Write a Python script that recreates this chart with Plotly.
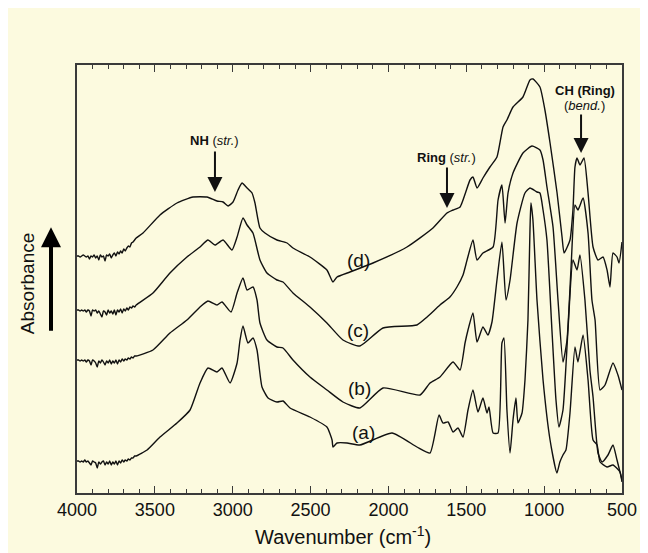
import plotly.graph_objects as go

# ---------------- data (wavenumber cm^-1, offset absorbance a.u.) ----------------
series_a = [
    (4000, 0.32), (3990, 0.32), (3980, 0.31), (3970, 0.32), (3960, 0.31), (3950, 0.33),
    (3940, 0.31), (3930, 0.32), (3920, 0.30), (3910, 0.28), (3900, 0.32), (3890, 0.31),
    (3880, 0.30), (3870, 0.25), (3860, 0.31), (3850, 0.29), (3840, 0.31), (3830, 0.32),
    (3820, 0.28), (3810, 0.31), (3800, 0.29), (3790, 0.32), (3780, 0.28), (3770, 0.31),
    (3760, 0.29), (3750, 0.32), (3740, 0.28), (3730, 0.32), (3720, 0.30), (3710, 0.33),
    (3700, 0.31), (3690, 0.33), (3680, 0.32), (3670, 0.34), (3660, 0.33), (3650, 0.35),
    (3640, 0.35), (3630, 0.37), (3620, 0.37),
    (3550, 0.43), (3467, 0.56), (3358, 0.70),
    (3274, 0.83), (3210, 1.10), (3159, 1.25), (3101, 1.21), (3069, 1.25), (3017, 1.10),
    (2972, 1.30), (2953, 1.53), (2934, 1.67), (2902, 1.50), (2870, 1.55), (2844, 1.43),
    (2812, 1.06), (2773, 0.95), (2716, 0.91), (2677, 0.92), (2632, 0.85), (2504, 0.76),
    (2395, 0.66), (2362, 0.53), (2356, 0.46), (2330, 0.50), (2266, 0.50), (2183, 0.48),
    (1977, 0.60), (1817, 0.46), (1733, 0.40), (1675, 0.78), (1650, 0.70), (1617, 0.71),
    (1585, 0.61), (1553, 0.65), (1521, 0.56), (1489, 0.83), (1457, 1.03), (1425, 0.81),
    (1393, 0.95), (1367, 0.80), (1354, 0.86), (1328, 0.60), (1296, 0.60), (1271, 1.50),
    (1258, 1.55), (1239, 0.83), (1219, 0.40), (1200, 0.73), (1181, 0.95), (1168, 0.70),
    (1142, 0.80), (1123, 1.13), (1104, 1.73), (1091, 2.63), (1085, 2.90), (1072, 2.73),
    (1046, 1.93), (1007, 1.13), (962, 0.53), (918, 0.20), (899, 0.31), (879, 0.38),
    (860, 0.43), (834, 0.80), (802, 1.46), (783, 1.31), (750, 1.58), (718, 1.13),
    (686, 0.53), (660, 0.48), (641, 0.31), (596, 0.26), (558, 0.28), (513, 0.21), (500, 0.11),
]

series_b = [
    (4000, 1.33), (3990, 1.33), (3980, 1.32), (3970, 1.33), (3960, 1.32), (3950, 1.33),
    (3940, 1.31), (3930, 1.33), (3920, 1.32), (3910, 1.28), (3900, 1.33), (3890, 1.32),
    (3880, 1.30), (3870, 1.26), (3860, 1.32), (3850, 1.30), (3840, 1.33), (3830, 1.31),
    (3820, 1.28), (3810, 1.32), (3800, 1.30), (3790, 1.33), (3780, 1.29), (3770, 1.32),
    (3760, 1.30), (3750, 1.33), (3740, 1.29), (3730, 1.33), (3720, 1.31), (3710, 1.34),
    (3700, 1.32), (3690, 1.34), (3680, 1.33), (3670, 1.35), (3660, 1.34), (3650, 1.36),
    (3640, 1.35), (3630, 1.37), (3620, 1.37),
    (3512, 1.43), (3403, 1.60), (3294, 1.73),
    (3210, 1.86), (3159, 1.92), (3101, 1.88), (3069, 1.91), (3011, 1.81), (2972, 2.00),
    (2934, 2.15), (2908, 2.03), (2870, 2.06), (2844, 1.93), (2825, 1.70), (2780, 1.53),
    (2716, 1.46), (2677, 1.45), (2613, 1.33), (2504, 1.16), (2395, 1.03), (2292, 0.91),
    (2183, 0.85), (2035, 1.05), (1797, 0.98), (1733, 1.10), (1669, 1.16), (1585, 1.31),
    (1540, 1.23), (1508, 1.50), (1489, 1.63), (1457, 1.80), (1431, 1.51), (1393, 1.66),
    (1361, 1.58), (1335, 1.71), (1303, 2.13), (1271, 2.51), (1245, 1.93), (1219, 2.13),
    (1174, 2.70), (1123, 3.00), (1091, 3.05), (1046, 3.01), (1027, 3.00), (1007, 2.83),
    (982, 2.53), (950, 1.63), (924, 0.93), (905, 0.66), (879, 0.83), (847, 1.63),
    (815, 2.33), (789, 2.23), (770, 2.38), (738, 1.93), (706, 1.23), (686, 0.96),
    (654, 0.40), (628, 0.31), (590, 0.38), (558, 0.48), (532, 0.33), (500, 0.13),
]

series_c = [
    (4000, 1.83), (3990, 1.83), (3980, 1.82), (3970, 1.83), (3960, 1.82), (3950, 1.83),
    (3940, 1.81), (3930, 1.83), (3920, 1.82), (3910, 1.77), (3900, 1.83), (3890, 1.82),
    (3880, 1.83), (3870, 1.80), (3860, 1.82), (3850, 1.79), (3840, 1.76), (3830, 1.82),
    (3820, 1.81), (3810, 1.78), (3800, 1.83), (3790, 1.80), (3780, 1.82), (3770, 1.79),
    (3760, 1.83), (3750, 1.78), (3740, 1.83), (3730, 1.81), (3720, 1.84), (3710, 1.80),
    (3700, 1.84), (3690, 1.82), (3680, 1.85), (3670, 1.83), (3660, 1.86), (3650, 1.85),
    (3640, 1.87), (3630, 1.86), (3620, 1.88),
    (3512, 2.00), (3403, 2.20), (3294, 2.36),
    (3210, 2.46), (3159, 2.53), (3114, 2.48), (3062, 2.53), (3005, 2.43), (2972, 2.56),
    (2934, 2.75), (2908, 2.68), (2870, 2.60), (2825, 2.33), (2780, 2.20), (2716, 2.13),
    (2677, 2.11), (2613, 2.00), (2504, 1.86), (2395, 1.70), (2292, 1.53), (2183, 1.47),
    (2035, 1.65), (1817, 1.68), (1752, 1.76), (1669, 1.88), (1605, 1.96), (1560, 2.06),
    (1521, 2.18), (1495, 2.33), (1457, 2.53), (1431, 2.33), (1393, 2.40), (1328, 2.46),
    (1296, 2.93), (1271, 3.08), (1251, 2.70), (1232, 3.00), (1200, 3.20), (1136, 3.40),
    (1078, 3.47), (1027, 3.43), (1007, 3.33), (982, 3.06), (943, 2.66), (911, 1.93),
    (879, 1.31), (853, 1.53), (828, 2.23), (802, 2.88), (783, 2.83), (750, 2.95),
    (718, 2.60), (693, 1.93), (673, 1.73), (641, 1.03), (609, 1.08), (558, 1.30),
    (526, 1.18), (500, 1.03),
]

series_d = [
    (4000, 2.37), (3990, 2.37), (3980, 2.36), (3970, 2.37), (3960, 2.38), (3950, 2.37),
    (3940, 2.36), (3930, 2.37), (3920, 2.34), (3910, 2.37), (3900, 2.36), (3890, 2.38),
    (3880, 2.35), (3870, 2.37), (3860, 2.33), (3850, 2.38), (3840, 2.36), (3830, 2.37),
    (3820, 2.32), (3810, 2.38), (3800, 2.37), (3790, 2.39), (3780, 2.35), (3770, 2.38),
    (3760, 2.40), (3750, 2.37), (3740, 2.41), (3730, 2.39), (3720, 2.42), (3710, 2.40),
    (3700, 2.44), (3690, 2.42), (3680, 2.45), (3670, 2.47), (3660, 2.46), (3650, 2.50),
    (3640, 2.51), (3630, 2.53), (3620, 2.55),
    (3576, 2.60), (3467, 2.78), (3358, 2.90), (3255, 2.96),
    (3165, 2.96), (3101, 2.92), (3062, 2.91), (3030, 2.87), (2998, 2.91), (2966, 3.03),
    (2940, 3.10), (2908, 3.05), (2876, 3.00), (2857, 2.90), (2825, 2.65), (2793, 2.60),
    (2716, 2.53), (2651, 2.50), (2613, 2.45), (2504, 2.36), (2395, 2.23), (2356, 2.11),
    (2330, 2.16), (2247, 2.21), (2099, 2.30), (1881, 2.46), (1714, 2.65), (1624, 2.80),
    (1585, 2.83), (1540, 2.86), (1476, 3.13), (1457, 3.16), (1431, 3.05), (1393, 3.15),
    (1348, 3.26), (1303, 3.36), (1264, 3.66), (1239, 3.73), (1200, 3.86), (1136, 3.96),
    (1091, 4.13), (1072, 4.14), (1027, 4.06), (995, 3.83), (962, 3.50), (917, 3.00),
    (885, 2.56), (872, 2.40), (834, 2.53), (815, 2.83), (802, 3.26), (789, 3.35),
    (770, 3.28), (744, 3.35), (718, 3.00), (686, 2.46), (654, 2.33), (622, 2.36),
    (596, 2.23), (577, 2.06), (558, 2.40), (532, 2.36), (519, 2.30), (500, 2.51),
]

curve_labels = ["(a)", "(b)", "(c)", "(d)"]
label_wn = [2163, 2183, 2195, 2195]
label_ab = [0.61, 1.05, 1.63, 2.33]

x_ticks = [4000, 3500, 3000, 2500, 2000, 1500, 1000, 500]

# band markers: (label html, wavenumber, arrow tip absorbance, label absorbance)
bands = [
    ("<b>NH</b> (<i>str.</i>)", 3114, 3.01, 3.53),
    ("<b>Ring</b> (<i>str.</i>)", 1624, 2.85, 3.36),
]
ch_band = ("<b>CH (Ring)</b>", "(<i>bend.</i>)", 763, 3.40, 4.03, 3.88)

# ---------------- figure ----------------
BG = "#FCFADF"
FONT = "Liberation Sans, Arial, Helvetica, sans-serif"
AX = "#3a3a3a"

fig = go.Figure()
for s in [series_a, series_b, series_c, series_d]:
    fig.add_trace(go.Scatter(
        x=[p[0] for p in s], y=[p[1] for p in s], mode="lines",
        line=dict(color="#111111", width=1.4, shape="spline", smoothing=0.5),
        showlegend=False, hoverinfo="skip"))

for lab, xw, yv in zip(curve_labels, label_wn, label_ab):
    fig.add_annotation(x=xw, y=yv, text=lab, showarrow=False,
                       xanchor="center", yanchor="middle",
                       font=dict(family=FONT, size=19, color="#111"))

for txt, xw, ytip, ylab in bands:
    fig.add_annotation(x=xw, y=ytip, text="", showarrow=True, ax=0, ay=-42,
                       arrowhead=2, arrowsize=1.5, arrowwidth=2, arrowcolor="#111")
    fig.add_annotation(x=xw, y=ylab, text=txt, showarrow=False,
                       xanchor="center", yanchor="middle",
                       font=dict(family=FONT, size=13, color="#111"))

t1, t2, xw, ytip, y1, y2 = ch_band
fig.add_annotation(x=xw, y=ytip, text="", showarrow=True, ax=0, ay=-40,
                   arrowhead=2, arrowsize=1.5, arrowwidth=2, arrowcolor="#111")
fig.add_annotation(x=xw - 25, y=y1, text=t1, showarrow=False,
                   xanchor="center", yanchor="middle",
                   font=dict(family=FONT, size=13, color="#111"))
fig.add_annotation(x=xw - 25, y=y2, text=t2, showarrow=False,
                   xanchor="center", yanchor="middle",
                   font=dict(family=FONT, size=13, color="#111"))

# axis titles
fig.add_annotation(xref="paper", yref="paper", x=0.488, y=-0.099,
                   xanchor="center", yanchor="middle",
                   text="Wavenumber (cm<sup>-1</sup>)", showarrow=False,
                   font=dict(family=FONT, size=20, color="#111"))
fig.add_annotation(xref="paper", yref="paper", x=-0.092, y=0.49,
                   xanchor="center", yanchor="middle",
                   text="Absorbance", textangle=-90, showarrow=False,
                   font=dict(family=FONT, size=19, color="#111"))
fig.add_annotation(xref="paper", yref="paper", x=-0.0477, y=0.621, text="",
                   showarrow=True, ax=0, ay=105, arrowhead=2, arrowsize=1.0,
                   arrowwidth=4, arrowcolor="#000")

fig.update_xaxes(
    range=[4000, 500], tickvals=x_ticks, ticktext=[str(v) for v in x_ticks],
    ticks="inside", ticklen=7, tickwidth=1.2, tickcolor=AX,
    minor=dict(dtick=100, ticks="inside", ticklen=4, tickwidth=1, tickcolor=AX),
    showline=True, linecolor=AX, linewidth=1.6, mirror="ticks",
    showgrid=False, zeroline=False,
    tickfont=dict(family=FONT, size=18, color="#111"))
fig.update_yaxes(
    range=[0, 4.28], showticklabels=False, ticks="",
    showline=True, linecolor=AX, linewidth=1.6, mirror=True,
    showgrid=False, zeroline=False)

fig.update_layout(
    width=640, height=545,
    margin=dict(l=69, r=26, t=57, b=60),
    paper_bgcolor=BG, plot_bgcolor=BG,
    font=dict(family=FONT),
)

fig.write_html("out.html")
